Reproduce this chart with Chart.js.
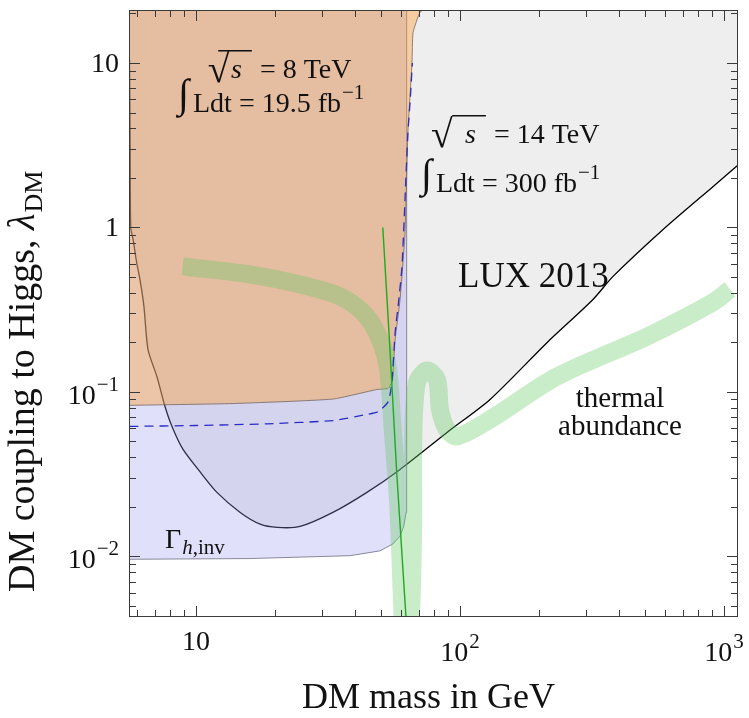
<!DOCTYPE html>
<html>
<head>
<meta charset="utf-8">
<script src="https://cdn.jsdelivr.net/npm/chart.js@4.4.1/dist/chart.umd.min.js"></script>
<style>
  html, body { margin: 0; padding: 0; background: #fff; }
  canvas { display: block; }
</style>
</head>
<body>
<canvas id="chartCanvas" width="749" height="718"></canvas>
<script>
// LUX 2013 direct detection limit (black line, grey excluded region above)
const luxMass   = [5.60, 5.63, 5.66, 5.78, 5.95, 6.15, 6.35, 6.58, 7.11, 7.63, 8.11, 8.93, 10.4, 12.0, 14.7, 17.5, 20.3, 24.8, 33.0, 44.4, 59.3, 89.3, 130, 214, 319, 380, 588, 908, 1150];
const luxLambda = [10.5, 3.0, 1.0, 0.84, 0.62, 0.47, 0.33, 0.181, 0.124, 0.0816, 0.0617, 0.0447, 0.0324, 0.0245, 0.0185, 0.0157, 0.0150, 0.0152, 0.0185, 0.0245, 0.0338, 0.0567, 0.090, 0.200, 0.365, 0.504, 0.972, 1.77, 2.45];

// invisible Higgs width reach, 14 TeV / 300 fb^-1 (blue region)
const inv14Mass   = [5.4, 16, 38.4, 49.7, 55.7, 59.3, 61.2, 62.5, 62.8, 62.8, 62.8];
const inv14Lambda = [0.0096, 0.0097, 0.0101, 0.0108, 0.0119, 0.0133, 0.0152, 0.0185, 0.025, 0.1, 30];

// 8 TeV / 19.5 fb^-1 exclusion (orange region)
const inv8Mass   = [5.4, 13.8, 33, 48.5, 53.4, 55.3, 55.7, 56.8, 59.3, 61.9, 63.5, 65.8, 66.4, 70.5, 75, 80];
const inv8Lambda = [0.0828, 0.085, 0.0905, 0.1035, 0.105, 0.115, 0.124, 0.209, 0.365, 0.93, 3.78, 10.1, 15.3, 20.3, 22, 30];

// 14 TeV projection (dashed blue)
const proj14Mass   = [5.6, 10, 18.6, 33, 44.4, 49, 53.4, 55.2, 56.8, 58.5, 60.3, 61.9, 63.5, 64.8, 66];
const proj14Lambda = [0.0617, 0.0625, 0.064, 0.067, 0.073, 0.076, 0.087, 0.114, 0.23, 0.35, 0.58, 1.48, 3.8, 6, 10];

// thin green line
const widthMass   = [51.0, 54.1, 57.6, 62.6];
const widthLambda = [1.0, 0.2, 0.032, 0.004];

// thermal abundance band
const thermalMass   = [8.9, 9.33, 16, 24.8, 35.1, 43.6, 49.7, 53.4, 55.7, 58.2, 60.3, 61.5, 63.5, 65.2, 66.4, 66.6, 68.7, 75, 81.8, 84, 89.3, 97.5, 130, 233, 511, 908, 1054];
const thermalLambda = [0.58, 0.575, 0.518, 0.45, 0.381, 0.296, 0.209, 0.137, 0.0567, 0.0222, 0.0055, 0.003, 0.003, 0.0045, 0.014, 0.0567, 0.114, 0.135, 0.119, 0.078, 0.059, 0.0536, 0.068, 0.124, 0.217, 0.35, 0.42];

// axis ticks
const xMajor = [10, 100, 1000];
const xMinor = [6, 7, 8, 9, 20, 30, 40, 50, 60, 70, 80, 90, 200, 300, 400, 500, 600, 700, 800, 900];
const yMajor = [0.01, 0.1, 1, 10];
const yMinor = [0.005, 0.006, 0.007, 0.008, 0.009, 0.02, 0.03, 0.04, 0.05, 0.06, 0.07, 0.08, 0.09,
                0.2, 0.3, 0.4, 0.5, 0.6, 0.7, 0.8, 0.9, 2, 3, 4, 5, 6, 7, 8, 9, 20];
const xTickLabels = [["10", ""], ["10", "2"], ["10", "3"]];
const yTickLabels = [["10", "\u22122"], ["10", "\u22121"], ["1", ""], ["10", ""]];

const SERIF = '"Liberation Serif", "Times New Roman", serif';
const font = (size, italic) => (italic ? "italic " : "") + size + "px " + SERIF;

function pts(xs, ys) {
    return xs.map((x, i) => ({ x: x, y: ys[i] }));
}

// draws "base^exp", y is the baseline
function drawPow(ctx, base, exp, x, y, align) {
    ctx.font = font(28);
    const wb = ctx.measureText(base).width;
    ctx.font = font(21);
    const we = exp ? ctx.measureText(exp).width + 1 : 0;
    const w = wb + we;
    let x0 = x;
    if (align === "right") x0 = x - w;
    if (align === "center") x0 = x - w / 2;
    ctx.textAlign = "left";
    ctx.font = font(28);
    ctx.fillText(base, x0, y);
    if (exp) {
        ctx.font = font(21);
        ctx.fillText(exp, x0 + wb + 1, y - 13);
    }
}

// pieces of text placed one after another, returns end x
function drawRun(ctx, parts, x, y) {
    ctx.textAlign = "left";
    for (const p of parts) {
        ctx.font = font(p.size, p.italic);
        ctx.fillText(p.t, x + (p.dx || 0), y + (p.dy || 0));
        x += ctx.measureText(p.t).width + (p.dx || 0);
    }
    return x;
}

// a glyph scaled so that its ink spans top..bottom, returns its metrics
function drawTallGlyph(ctx, ch, x, top, bottom) {
    ctx.font = font(100);
    const m0 = ctx.measureText(ch);
    const size = 100 * (bottom - top) / (m0.actualBoundingBoxAscent + m0.actualBoundingBoxDescent);
    ctx.font = font(size);
    const m = ctx.measureText(ch);
    ctx.textAlign = "left";
    ctx.fillText(ch, x + m.actualBoundingBoxLeft, top + m.actualBoundingBoxAscent);
    return { right: x + m.actualBoundingBoxLeft + m.actualBoundingBoxRight };
}

function drawSqrtS(ctx, x, base, rest) {
    const r = drawTallGlyph(ctx, "\u221A", x, base - 28, base + 4);
    ctx.font = font(28, true);
    const ws = ctx.measureText("s").width;
    ctx.fillText("s", r.right + 12, base);
    ctx.beginPath();
    ctx.lineWidth = 1.4;
    ctx.moveTo(r.right - 0.8, base - 27.3);
    ctx.lineTo(r.right + ws + 22, base - 27.3);
    ctx.stroke();
    drawRun(ctx, [{ t: rest, size: 28 }], r.right + ws + 30, base);
}

function drawLumi(ctx, x, base, value) {
    const r = drawTallGlyph(ctx, "\u222B", x, base - 34, base + 6);
    const end = drawRun(ctx, [{ t: "Ldt = " + value + " fb", size: 28 }], r.right + 1, base);
    drawRun(ctx, [{ t: "\u22121", size: 21 }], end + 1, base - 13);
}

const framePlugin = {
    id: "frame",
    afterDatasetsDraw(chart) {
        const { ctx, chartArea: a, scales: { x, y } } = chart;
        ctx.save();
        ctx.strokeStyle = "#3a3a3a";
        ctx.lineWidth = 1;
        ctx.strokeRect(a.left + 0.5, a.top + 0.5, a.right - a.left - 1, a.bottom - a.top - 1);
        const tick = (x1, y1, x2, y2) => {
            ctx.beginPath(); ctx.moveTo(x1, y1); ctx.lineTo(x2, y2); ctx.stroke();
        };
        [[xMajor, 11], [xMinor, 7]].forEach(([vals, len]) => vals.forEach(v => {
            const px = Math.round(x.getPixelForValue(v)) + 0.5;
            tick(px, a.bottom, px, a.bottom - len);
            tick(px, a.top, px, a.top + len);
        }));
        [[yMajor, 11], [yMinor, 7]].forEach(([vals, len]) => vals.forEach(v => {
            const py = Math.round(y.getPixelForValue(v)) + 0.5;
            tick(a.left, py, a.left + len, py);
            tick(a.right, py, a.right - len, py);
        }));
        ctx.restore();
    },
    afterDraw(chart) {
        const { ctx, chartArea: a, scales: { x, y } } = chart;
        ctx.save();
        ctx.fillStyle = "#111";
        ctx.strokeStyle = "#111";
        // tick labels
        xMajor.forEach((v, i) => {
            const [b, e] = xTickLabels[i];
            drawPow(ctx, b, e, x.getPixelForValue(v), e ? 661 : 650, "center");
        });
        yMajor.forEach((v, i) => {
            const [b, e] = yTickLabels[i];
            drawPow(ctx, b, e, 119, y.getPixelForValue(v) + (e ? 12 : 9), "right");
        });
        // axis titles
        ctx.font = font(36);
        ctx.textAlign = "center";
        ctx.fillText("DM mass in GeV", (a.left + a.right) / 2 - 5, 708);
        ctx.save();
        ctx.translate(34, 592);
        ctx.rotate(-Math.PI / 2);
        const e1 = drawRun(ctx, [{ t: "DM coupling to Higgs, ", size: 38 }, { t: "\u03BB", size: 38, italic: true }], 0, 0);
        drawRun(ctx, [{ t: "DM", size: 26 }], e1 + 1, 8);
        ctx.restore();
        // annotations
        drawSqrtS(ctx, 197, 78, "= 8 TeV");
        drawLumi(ctx, 175, 112, "19.5");
        drawSqrtS(ctx, 431, 143, "= 14 TeV");
        drawLumi(ctx, 418, 192, "300");
        drawRun(ctx, [{ t: "LUX 2013", size: 35 }], 458, 287);
        ctx.font = font(29);
        ctx.textAlign = "center";
        ctx.fillText("thermal", 620, 407);
        ctx.fillText("abundance", 620, 435);
        drawRun(ctx, [{ t: "\u0393", size: 28 }, { t: "h", size: 21, italic: true, dy: 6, dx: 1 }, { t: ",inv", size: 21, dy: 6 }], 165, 548);
        ctx.restore();
    }
};

const ctx = document.getElementById("chartCanvas").getContext("2d");
const chart = new Chart(ctx, {
    type: "line",
    data: {
        datasets: [
            {   // thin green line
                data: pts(widthMass, widthLambda),
                borderColor: "#1faa1f", borderWidth: 1.4, fill: false, clip: 0
            },
            {   // 14 TeV projection
                data: pts(proj14Mass, proj14Lambda),
                borderColor: "#2b2bc8", borderWidth: 1.3, borderDash: [9, 6], fill: false, clip: 0, tension: 0.2
            },
            {   // thermal abundance band
                data: pts(thermalMass, thermalLambda),
                borderColor: "rgba(100,200,100,0.35)", borderWidth: 18, fill: false, clip: 0,
                tension: 0.3, borderJoinStyle: "round", borderCapStyle: "butt"
            },
            {   // 8 TeV exclusion
                data: pts(inv8Mass, inv8Lambda),
                borderColor: "rgba(110,95,90,0.75)", borderWidth: 1, fill: "end",
                backgroundColor: "rgba(255,155,45,0.4)", clip: 0, tension: 0.15
            },
            {   // invisible width 14 TeV
                data: pts(inv14Mass, inv14Lambda),
                borderColor: "rgba(110,110,130,0.8)", borderWidth: 1, fill: "end",
                backgroundColor: "rgba(153,153,238,0.3)", clip: 0, tension: 0
            },
            {   // LUX 2013
                data: pts(luxMass, luxLambda),
                borderColor: "#000", borderWidth: 1.3, fill: "end",
                backgroundColor: "#eeeeee", clip: 0, tension: 0.25
            }
        ]
    },
    options: {
        responsive: false,
        animation: false,
        layout: { padding: { left: 129, right: 11, top: 10, bottom: 101 } },
        elements: { point: { radius: 0 } },
        plugins: { legend: { display: false }, tooltip: { enabled: false } },
        scales: {
            x: {
                type: "logarithmic", min: 5.574, max: 1130,
                grid: { display: false, drawTicks: false }, border: { display: false },
                ticks: { display: false },
                afterFit(scale) { scale.height = 0; }
            },
            y: {
                type: "logarithmic", min: 0.00428, max: 21,
                grid: { display: false, drawTicks: false }, border: { display: false },
                ticks: { display: false },
                afterFit(scale) { scale.width = 0; }
            }
        }
    },
    plugins: [framePlugin]
});
</script>
</body>
</html>
